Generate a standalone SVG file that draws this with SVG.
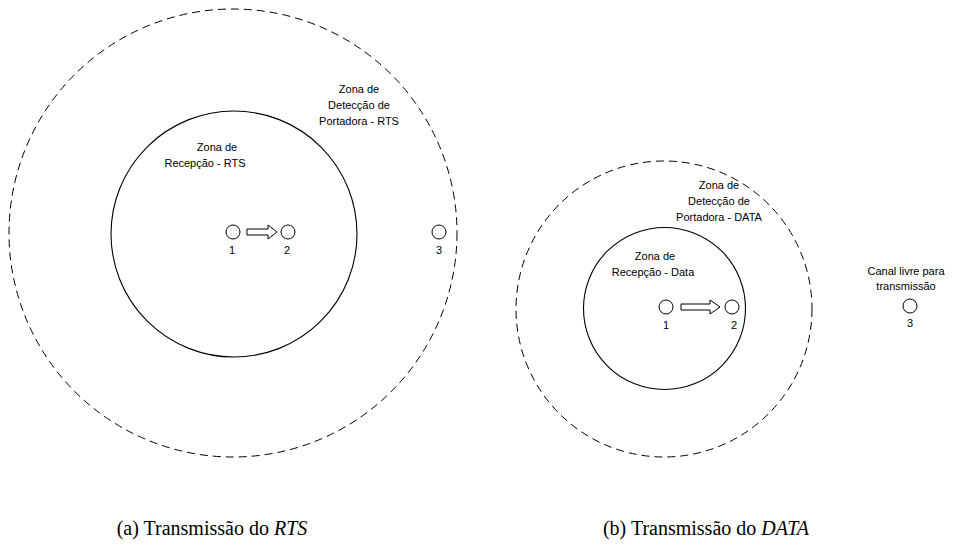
<svg xmlns="http://www.w3.org/2000/svg" width="959" height="556" viewBox="0 0 959 556">
<style>
.dash{fill:none;stroke:#000;stroke-width:1;stroke-dasharray:8 5}
.solid{fill:none;stroke:#000;stroke-width:1.1}
.node{fill:#fff;stroke:#000;stroke-width:1}
.arr{fill:#fff;stroke:#000;stroke-width:1;stroke-linejoin:miter}
.t{font-family:"Liberation Sans",Arial,sans-serif;font-size:11px;fill:#000;text-anchor:middle}
.cap{font-family:"Liberation Serif","Times New Roman",serif;font-size:20px;fill:#000;text-anchor:middle}
</style>
<rect width="959" height="556" fill="#fff"/>
<g id="zones-a">
<circle id="carrier-a" class="dash" cx="233" cy="233" r="224"/>
<circle id="reception-a" class="solid" cx="234" cy="234" r="123"/>
</g>
<g id="zones-b">
<circle id="carrier-b" class="dash" cx="664" cy="309" r="148"/>
<circle id="reception-b" class="solid" cx="664.5" cy="308.5" r="81"/>
</g>
<g id="connectors">
<path class="arr" d="M247,229 H268 V225 L277,232 L268,239 V235 H247 Z"/>
<path class="arr" d="M681,304 H710 V300 L720,307 L710,314 V310 H681 Z"/>
</g>
<g id="a-node1"><circle class="node" cx="233" cy="232" r="7"/><text class="t" x="232" y="254">1</text></g>
<g id="a-node2"><circle class="node" cx="288" cy="232" r="7"/><text class="t" x="287" y="254">2</text></g>
<g id="a-node3"><circle class="node" cx="439" cy="232" r="7"/><text class="t" x="439" y="254">3</text></g>
<g id="b-node1"><circle class="node" cx="666" cy="307" r="7"/><text class="t" x="666" y="329">1</text></g>
<g id="b-node2"><circle class="node" cx="732" cy="307" r="7"/><text class="t" x="734" y="329">2</text></g>
<g id="b-node3"><circle class="node" cx="910" cy="306" r="7"/><text class="t" x="910" y="327">3</text></g>
<g id="labels">
<text class="t" x="359" y="93">Zona de</text>
<text class="t" x="359" y="109">Detecção de</text>
<text class="t" x="359" y="125">Portadora - RTS</text>
<text class="t" x="217" y="151">Zona de</text>
<text class="t" x="205" y="167">Recepção - RTS</text>
<text class="t" x="719" y="189">Zona de</text>
<text class="t" x="719" y="205">Detecção de</text>
<text class="t" x="719" y="221">Portadora - DATA</text>
<text class="t" x="655" y="260">Zona de</text>
<text class="t" x="653" y="276">Recepção - Data</text>
<text class="t" x="906" y="275">Canal livre para</text>
<text class="t" x="906" y="290">transmissão</text>
</g>
<g id="captions">
<text class="cap" x="212" y="535">(a) Transmissão do <tspan font-style="italic">RTS</tspan></text>
<text class="cap" x="706" y="535">(b) Transmissão do <tspan font-style="italic">DATA</tspan></text>
</g>
</svg>
